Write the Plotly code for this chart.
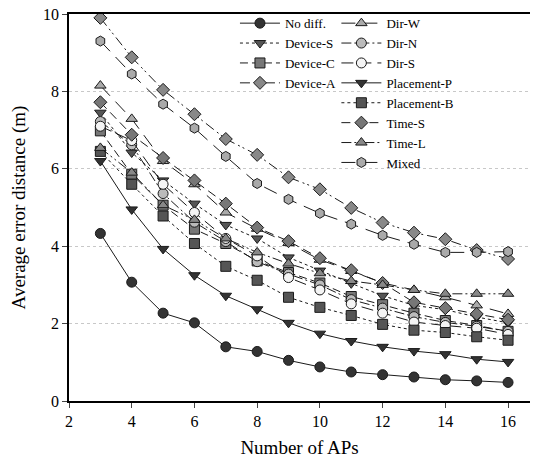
import plotly.graph_objects as go

aps = [3, 4, 5, 6, 7, 8, 9, 10, 11, 12, 13, 14, 15, 16]

no_diff     = [4.33, 3.07, 2.27, 2.02, 1.40, 1.28, 1.05, 0.88, 0.75, 0.68, 0.62, 0.55, 0.52, 0.48]
device_s    = [7.45, 6.42, 5.70, 5.10, 4.55, 4.20, 3.71, 3.37, 3.04, 2.72, 2.47, 2.36, 2.17, 2.02]
device_c    = [6.98, 5.86, 5.06, 4.44, 4.07, 3.62, 3.32, 3.05, 2.70, 2.49, 2.27, 2.08, 1.95, 1.80]
device_a    = [9.90, 8.88, 8.04, 7.41, 6.77, 6.36, 5.78, 5.47, 4.99, 4.61, 4.35, 4.18, 3.90, 3.67]
dir_w       = [8.15, 7.29, 6.20, 5.60, 4.87, 4.45, 4.08, 3.65, 3.36, 3.05, 2.87, 2.68, 2.47, 2.25]
dir_n       = [7.22, 6.62, 5.36, 4.62, 4.12, 3.60, 3.28, 3.00, 2.62, 2.40, 2.18, 2.03, 1.93, 1.80]
dir_s       = [7.10, 6.73, 5.60, 4.87, 4.20, 3.75, 3.19, 2.87, 2.51, 2.27, 2.04, 1.95, 1.88, 1.72]
placement_p = [6.20, 4.95, 3.93, 3.25, 2.72, 2.37, 2.02, 1.74, 1.55, 1.40, 1.29, 1.21, 1.08, 1.01]
placement_b = [6.45, 5.60, 4.78, 4.07, 3.48, 3.12, 2.68, 2.42, 2.21, 1.98, 1.83, 1.77, 1.66, 1.57]
time_s      = [7.72, 6.88, 6.28, 5.70, 5.10, 4.48, 4.13, 3.69, 3.38, 3.05, 2.55, 2.40, 2.25, 2.10]
time_l      = [6.54, 5.90, 5.06, 4.68, 4.20, 3.84, 3.55, 3.30, 3.10, 3.00, 2.87, 2.77, 2.77, 2.77]
mixed       = [9.30, 8.45, 7.67, 7.05, 6.32, 5.62, 5.21, 4.85, 4.57, 4.28, 4.05, 3.84, 3.84, 3.86]

x_ticks = [2, 4, 6, 8, 10, 12, 14, 16]
y_ticks = [0, 2, 4, 6, 8, 10]

series = [
    ("No diff.",    no_diff,     "circle",        "#333333", "solid",                         "legend"),
    ("Device-S",    device_s,    "triangle-down", "#555555", "dot",                           "legend"),
    ("Device-C",    device_c,    "square",        "#777777", "8px,4px",                       "legend"),
    ("Device-A",    device_a,    "diamond",       "#888888", "10px,4px,2px,3px,2px,4px",      "legend"),
    ("Dir-W",       dir_w,       "triangle-up",   "#aaaaaa", "14px,8px",                      "legend2"),
    ("Dir-N",       dir_n,       "circle",        "#bbbbbb", "10px,3px,2px,3px",              "legend2"),
    ("Dir-S",       dir_s,       "circle",        "#f4f4f4", "12px,6px",                      "legend2"),
    ("Placement-P", placement_p, "triangle-down", "#333333", "solid",                         "legend2"),
    ("Placement-B", placement_b, "square",        "#555555", "dot",                           "legend2"),
    ("Time-S",      time_s,      "diamond",       "#777777", "9px,5px",                       "legend2"),
    ("Time-L",      time_l,      "triangle-up",   "#888888", "10px,3px,2px,3px,2px,3px",      "legend2"),
    ("Mixed",       mixed,       "hexagon",       "#aaaaaa", "14px,8px",                      "legend2"),
]

fig = go.Figure()
for name, vals, sym, col, dash, leg in series:
    fig.add_trace(go.Scatter(
        x=aps, y=vals, name=name, mode="lines+markers",
        line=dict(color="#1a1a1a", width=1, dash=dash),
        marker=dict(symbol=sym, size=10, color=col, line=dict(color="#1a1a1a", width=1)),
        legend=leg,
    ))

serif = "Liberation Serif, Times New Roman, serif"

fig.update_layout(
    width=538, height=467,
    margin=dict(l=69, r=8, t=12, b=66),
    paper_bgcolor="white", plot_bgcolor="white",
    font=dict(family=serif, size=16, color="black"),
    showlegend=True,
    legend=dict(x=0.36, y=1.015, xanchor="left", yanchor="top",
                bgcolor="rgba(255,255,255,0)", font=dict(family=serif, size=13),
                tracegroupgap=0, itemwidth=40),
    legend2=dict(x=0.58, y=1.015, xanchor="left", yanchor="top",
                 bgcolor="rgba(255,255,255,0)", font=dict(family=serif, size=13),
                 tracegroupgap=0, itemwidth=40),
    xaxis=dict(range=[2, 16.7], tickvals=x_ticks, ticks="outside", ticklen=5,
               showline=True, linecolor="black", linewidth=1.5, mirror=True,
               showgrid=False, zeroline=False, automargin=False,
               title=dict(text="Number of APs", font=dict(family=serif, size=19), standoff=12),
               tickfont=dict(family=serif, size=16)),
    yaxis=dict(range=[0, 10], tickvals=y_ticks, ticks="outside", ticklen=5,
               showline=True, linecolor="black", linewidth=1.5,
               showgrid=True, gridcolor="#c8c8c8", griddash="dot", gridwidth=1,
               zeroline=False, automargin=False,
               title=dict(text="Average error distance (m)", font=dict(family=serif, size=19), standoff=12),
               tickfont=dict(family=serif, size=16)),
)

fig.write_html("out.html")
